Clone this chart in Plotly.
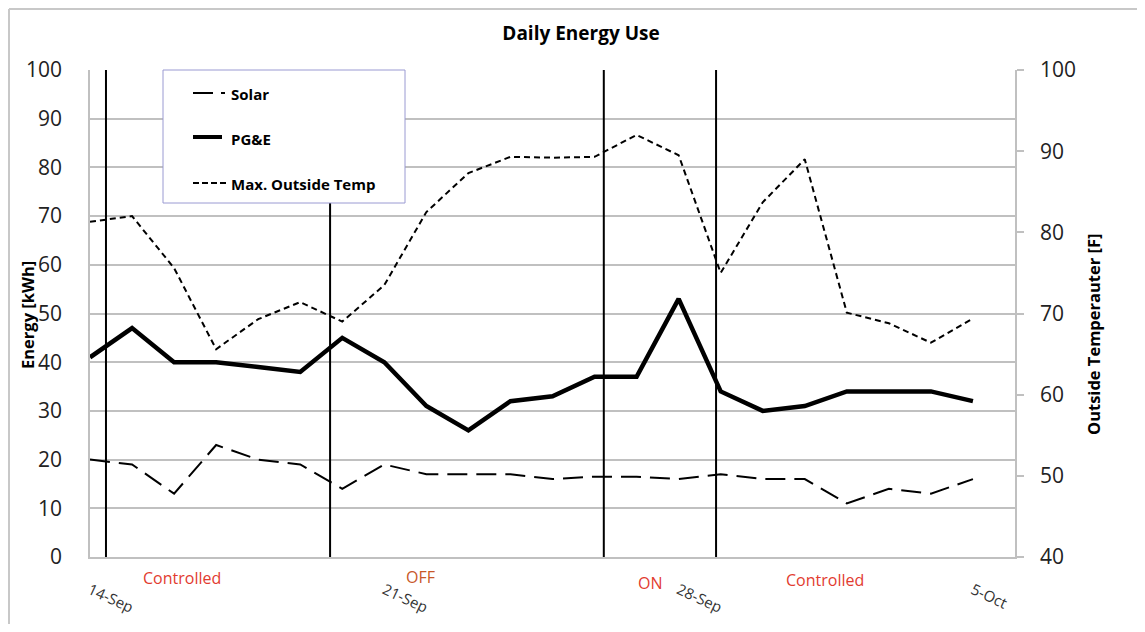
import plotly.graph_objects as go

# ---------------- data ----------------
dates = ["14-Sep", "15-Sep", "16-Sep", "17-Sep", "18-Sep", "19-Sep", "20-Sep",
         "21-Sep", "22-Sep", "23-Sep", "24-Sep", "25-Sep", "26-Sep", "27-Sep",
         "28-Sep", "29-Sep", "30-Sep", "1-Oct", "2-Oct", "3-Oct", "4-Oct", "5-Oct"]
solar = [20, 19, 13, 23, 20, 19, 14, 19, 17, 17, 17, 16, 16.5, 16.5,
         16, 17, 16, 16, 11, 14, 13, 16]
pge = [41, 47, 40, 40, 39, 38, 45, 40, 31, 26, 32, 33, 37, 37,
       53, 34, 30, 31, 34, 34, 34, 32]
max_temp = [81.3, 82.0, 75.6, 65.6, 69.3, 71.4, 69.0, 73.5, 82.5, 87.3, 89.3, 89.2,
            89.3, 92.0, 89.5, 75.0, 83.7, 89.0, 70.1, 68.8, 66.4, 69.4]
tick_labels = ["14-Sep", "21-Sep", "28-Sep", "5-Oct"]
phase_boundaries = [0.38, 5.71, 12.22, 14.89]   # in day-index units
phase_labels = ["Controlled", "OFF", "ON", "Controlled"]
phase_label_x = [2.19, 7.85, 13.34, 17.48]
phase_label_colors = ["#e23b30", "#c8582a", "#e23b30", "#e23b30"]
phase_label_ypx = [578, 577, 583, 580]

# ---------------- layout geometry ----------------
PAGE_OFF = 8                      # default body margin of the html page
W, H = 1145 - 2 * PAGE_OFF, 632 - 2 * PAGE_OFF
PLOT_L, PLOT_T, PW, PH = 90, 70, 925, 487   # target page pixels
L, T = PLOT_L - PAGE_OFF, PLOT_T - PAGE_OFF
R, B = W - L - PW, H - T - PH


def pxx(px):
    return (px - PLOT_L) / PW


def pxy(py):
    return (PLOT_T + PH - py) / PH


FONT = "Open Sans"
GRID = "#c0c0c0"

fig = go.Figure()
fig.add_trace(go.Scatter(x=dates, y=solar, name="Solar", mode="lines",
                         line=dict(color="black", width=2, dash="20px,9px")))
fig.add_trace(go.Scatter(x=dates, y=pge, name="PG&E", mode="lines",
                         line=dict(color="black", width=4.5)))
fig.add_trace(go.Scatter(x=dates, y=max_temp, name="Max. Outside Temp", mode="lines",
                         yaxis="y2",
                         line=dict(color="black", width=2, dash="6px,4px")))

shapes = []
# chart border (left and top edges visible in the frame)
shapes.append(dict(type="line", xref="paper", yref="paper",
                   x0=pxx(9), x1=pxx(9), y0=pxy(H + PAGE_OFF), y1=pxy(9),
                   line=dict(color="#c8c8c8", width=2), layer="below"))
shapes.append(dict(type="line", xref="paper", yref="paper",
                   x0=pxx(9), x1=pxx(W + PAGE_OFF), y0=pxy(9), y1=pxy(9),
                   line=dict(color="#c8c8c8", width=2), layer="below"))
# phase boundary lines
for xb in phase_boundaries:
    shapes.append(dict(type="line", xref="x", yref="y", x0=xb, x1=xb, y0=0, y1=100,
                       line=dict(color="black", width=2), layer="above"))
# legend box
shapes.append(dict(type="rect", xref="paper", yref="paper",
                   x0=pxx(163), x1=pxx(405), y0=pxy(203), y1=pxy(70),
                   fillcolor="white", line=dict(color="#9a9ad2", width=1), layer="above"))
# legend samples
shapes.append(dict(type="line", xref="paper", yref="paper",
                   x0=pxx(193), x1=pxx(225), y0=pxy(93), y1=pxy(93),
                   line=dict(color="black", width=2, dash="20px,8px"), layer="above"))
shapes.append(dict(type="line", xref="paper", yref="paper",
                   x0=pxx(193), x1=pxx(222), y0=pxy(137), y1=pxy(137),
                   line=dict(color="black", width=4), layer="above"))
shapes.append(dict(type="line", xref="paper", yref="paper",
                   x0=pxx(193), x1=pxx(227), y0=pxy(183), y1=pxy(183),
                   line=dict(color="black", width=2, dash="6px,3px"), layer="above"))

annotations = []
for name, ypx in zip(["Solar", "PG&E", "Max. Outside Temp"], [94, 139, 184]):
    annotations.append(dict(xref="paper", yref="paper", x=pxx(229), y=pxy(ypx),
                            xanchor="left", yanchor="middle", showarrow=False,
                            text="<b>%s</b>" % name.replace("&", "&amp;"),
                            font=dict(family=FONT, size=15, color="black")))
for lab, xl, col, ypx in zip(phase_labels, phase_label_x, phase_label_colors, phase_label_ypx):
    annotations.append(dict(xref="x", yref="paper", x=xl, y=pxy(ypx),
                            xanchor="center", yanchor="middle", showarrow=False,
                            text=lab, font=dict(family=FONT, size=16, color=col)))
# axis titles
annotations.append(dict(xref="paper", yref="paper", x=pxx(27), y=pxy(315),
                        xanchor="center", yanchor="middle", showarrow=False, textangle=-90,
                        text="<b>Energy [kWh]</b>",
                        font=dict(family=FONT, size=16.5, color="black")))
annotations.append(dict(xref="paper", yref="paper", x=pxx(1093), y=pxy(334),
                        xanchor="center", yanchor="middle", showarrow=False, textangle=-90,
                        text="<b>Outside Temperauter [F]</b>",
                        font=dict(family=FONT, size=16.5, color="black")))

fig.update_layout(
    width=W, height=H,
    margin=dict(l=L, r=R, t=T, b=B, autoexpand=False),
    paper_bgcolor="white", plot_bgcolor="white",
    showlegend=False,
    title=dict(text="<b>Daily Energy Use</b>", xref="container", yref="container",
               x=(581 - PAGE_OFF) / W, y=1 - (33 - PAGE_OFF) / H,
               xanchor="center", yanchor="middle",
               font=dict(family=FONT, size=19, color="black")),
    xaxis=dict(type="category", range=[0, 22], showgrid=False, zeroline=False,
               showline=True, linecolor=GRID, linewidth=1.5,
               tickmode="array", tickvals=tick_labels, ticktext=tick_labels,
               tickangle=25, ticks="outside", ticklen=17, tickcolor="rgba(0,0,0,0)",
               tickfont=dict(family=FONT, size=15, color="#333333"),
               ),
    yaxis=dict(range=[0, 100], dtick=10, showgrid=True, gridcolor=GRID, gridwidth=1.5,
               zeroline=False, showline=True, linecolor=GRID, linewidth=1.5,
               ticks="outside", ticklen=22, tickcolor="rgba(0,0,0,0)",
               tickfont=dict(family=FONT, size=21, color="#222222")),
    yaxis2=dict(range=[40, 100], dtick=10, overlaying="y", side="right", showgrid=False,
                zeroline=False, showline=True, linecolor=GRID, linewidth=1.5,
                ticks="outside", ticklen=7, tickcolor=GRID, tickwidth=1.5,
                ticklabelstandoff=12,
                tickfont=dict(family=FONT, size=21, color="#222222")),
    shapes=shapes,
    annotations=annotations,
)

fig.write_html("out.html")
